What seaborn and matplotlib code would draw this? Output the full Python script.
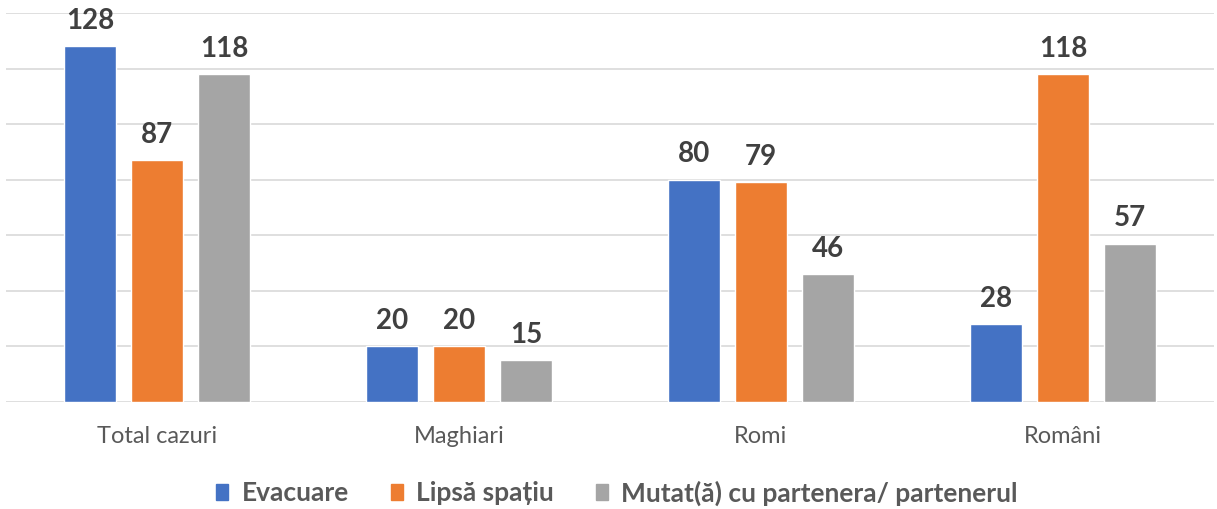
import pandas as pd
import seaborn as sns
import matplotlib.pyplot as plt

categories = ["Total cazuri", "Maghiari", "Romi", "Români"]
series = ["Evacuare", "Lipsă spațiu", "Mutat(ă) cu partenera/ partenerul"]
evacuare = [128, 20, 80, 28]
lipsa_spatiu = [87, 20, 79, 118]
mutat = [118, 15, 46, 57]
colors = ["#4472C4", "#ED7D31", "#A5A5A5"]

rows = []
for name, vals in zip(series, [evacuare, lipsa_spatiu, mutat]):
    for cat, v in zip(categories, vals):
        rows.append({"categorie": cat, "motiv": name, "valoare": v})
df = pd.DataFrame(rows)

sns.set_theme(style="white")
plt.rcParams["font.family"] = ["Lato", "DejaVu Sans"]

fig = plt.figure(figsize=(12.17, 5.09), dpi=100)
ax = fig.add_axes([6 / 1217, 1 - 402 / 509, 1208 / 1217, 389 / 509])

sns.barplot(data=df, x="categorie", y="valoare", hue="motiv", palette=colors,
            width=0.666, gap=0.224, ax=ax, legend=False, saturation=1)

ax.set_ylim(0, 140)
ax.set_yticks(range(0, 141, 20))
ax.yaxis.grid(True, color="#D9D9D9", linewidth=1.2)
ax.set_axisbelow(True)
ax.tick_params(axis="y", left=False, labelleft=False)
ax.tick_params(axis="x", length=0, pad=17, labelsize=17, labelcolor="#595959")
ax.set_xlabel("")
ax.set_ylabel("")
for s in ax.spines.values():
    s.set_visible(False)

for cont in ax.containers:
    labels = ax.bar_label(cont, padding=9, fontsize=20, fontweight="bold", color="#404040")
    for t in labels:
        t.set_clip_on(False)

handles = [plt.Rectangle((0, 0), 1, 1, color=c) for c in colors]
fig.legend(handles, series, loc="center", bbox_to_anchor=(0.507, 1 - 493 / 509), ncol=3,
           frameon=False, handlelength=0.45, handleheight=0.6, handletextpad=0.5,
           columnspacing=1.6, prop={"size": 19, "weight": "bold"}, labelcolor="#595959")

fig.savefig("out.png", dpi=100)
